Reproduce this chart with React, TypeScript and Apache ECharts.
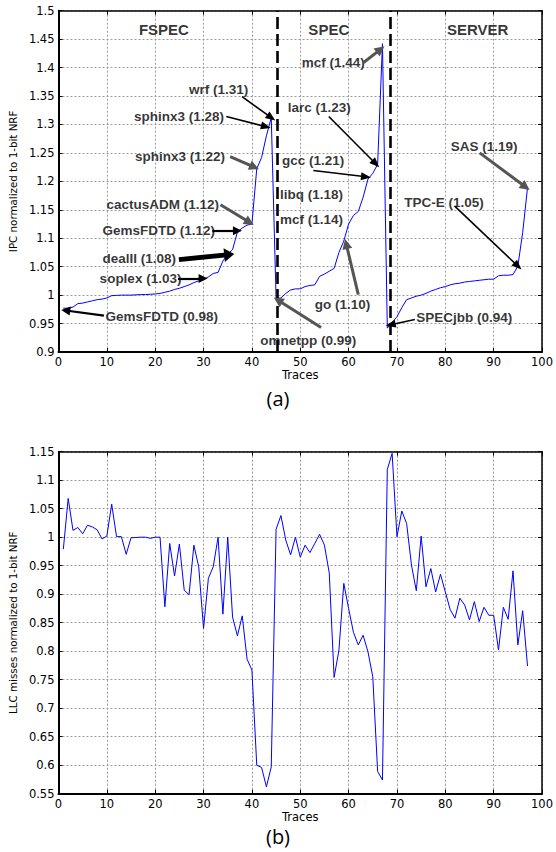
import React, { useEffect, useRef } from "react";
import * as echarts from "echarts";

// IPC normalized to 1-bit NRF, traces 1..97
const ipcValues = [
  0.977, 0.977, 0.979, 0.985, 0.986, 0.988, 0.99, 0.992, 0.993, 0.995,
  0.999, 0.9995, 1.0, 1.0, 1.0, 1.0005, 1.001, 1.001, 1.0015, 1.002,
  1.003, 1.005, 1.007, 1.01, 1.012, 1.015, 1.018, 1.022, 1.025, 1.028,
  1.032, 1.038, 1.04, 1.06, 1.072, 1.08, 1.111, 1.118, 1.123, 1.125,
  1.222, 1.242, 1.28, 1.312,
  0.994, 0.995, 1.003, 1.009, 1.011, 1.011, 1.015, 1.017, 1.018, 1.033,
  1.037, 1.042, 1.047, 1.075, 1.095, 1.125, 1.14, 1.147, 1.172, 1.204,
  1.214, 1.23, 1.442,
  0.942, 0.952, 0.962, 0.978, 0.992, 0.995, 0.998, 1.0, 1.003, 1.007,
  1.01, 1.013, 1.015, 1.018, 1.02, 1.021, 1.023, 1.024, 1.025, 1.026,
  1.027, 1.028, 1.028, 1.034, 1.035, 1.035, 1.036, 1.051, 1.11, 1.189,
];

// LLC misses normalized to 1-bit NRF, traces 1..97
const llcValues = [
  0.979, 1.068, 1.012, 1.017, 1.006, 1.021, 1.018, 1.013, 0.997, 1.002,
  1.058, 1.001, 1.001, 0.97, 0.999, 0.9995, 1.0, 1.0, 0.998, 1.0,
  1.0, 0.878, 0.989, 0.932, 0.988, 0.907, 0.899, 0.986, 0.948, 0.84,
  0.928, 0.948, 1.0, 0.865, 1.0, 0.86, 0.827, 0.862, 0.786, 0.767,
  0.6, 0.596, 0.562, 0.597, 1.014, 1.038, 0.995, 0.969, 1.0, 0.965,
  0.986, 0.973, 0.989, 1.005, 0.986, 0.937, 0.754, 0.802, 0.919, 0.875,
  0.833, 0.811, 0.828, 0.799, 0.755, 0.589, 0.574, 1.119, 1.147, 1.001,
  1.046, 1.024, 0.951, 0.906, 1.002, 0.913, 0.945, 0.904, 0.935, 0.904,
  0.873, 0.858, 0.893, 0.881, 0.855, 0.887, 0.852, 0.877, 0.863, 0.863,
  0.802, 0.877, 0.856, 0.941, 0.811, 0.871, 0.774,
];

const sectionLabels = [
  { text: "FSPEC", x: 21.8, y: 1.467 },
  { text: "SPEC", x: 55.9, y: 1.467 },
  { text: "SERVER", x: 86.7, y: 1.467 },
];

const separators = [45.2, 68.7];

type Ann = { text: string; tx: number; ty: number; from?: number[]; to?: number[]; kind?: string };
const annotations: Ann[] = [
  { text: "wrf (1.31)", tx: 26.9, ty: 1.361, from: [37.96, 1.349], to: [44.0, 1.312], kind: "black" },
  { text: "sphinx3 (1.28)", tx: 15.5, ty: 1.314, from: [34.7, 1.314], to: [42.9, 1.296], kind: "black" },
  { text: "sphinx3 (1.22)", tx: 15.7, ty: 1.2436, from: [35.5, 1.2436], to: [40.5, 1.225], kind: "gray" },
  { text: "cactusADM (1.12)", tx: 9.8, ty: 1.159, from: [33.5, 1.159], to: [39.5, 1.128], kind: "gray" },
  { text: "GemsFDTD (1.12)", tx: 9.0, ty: 1.113, from: [31.8, 1.113], to: [37.0, 1.113], kind: "mid" },
  { text: "dealII (1.08)", tx: 9.0, ty: 1.064, from: [24.9, 1.0624], to: [35.3, 1.0712], kind: "thick" },
  { text: "soplex (1.03)", tx: 8.4, ty: 1.029, from: [24.7, 1.029], to: [29.9, 1.029], kind: "mid" },
  { text: "GemsFDTD (0.98)", tx: 9.6, ty: 0.962, from: [9.4, 0.964], to: [1.5, 0.973], kind: "mid" },
  { text: "omnetpp (0.99)", tx: 41.6, ty: 0.92, from: [54.3, 0.943], to: [45.4, 0.991], kind: "gray" },
  { text: "go (1.10)", tx: 52.9, ty: 0.983, from: [62.0, 1.001], to: [59.5, 1.09], kind: "gray" },
  { text: "mcf (1.14)", tx: 45.7, ty: 1.133 },
  { text: "libq (1.18)", tx: 45.7, ty: 1.177 },
  { text: "gcc (1.21)", tx: 46.1, ty: 1.2366, from: [52.7, 1.219], to: [63.6, 1.208], kind: "black" },
  { text: "larc (1.23)", tx: 47.3, ty: 1.33, from: [55.9, 1.314], to: [65.6, 1.231], kind: "black" },
  { text: "mcf (1.44)", tx: 50.2, ty: 1.409, from: [63.1, 1.409], to: [66.6, 1.432], kind: "gray" },
  { text: "SAS (1.19)", tx: 81.0, ty: 1.261, from: [87.1, 1.25], to: [96.6, 1.19], kind: "gray" },
  { text: "TPC-E (1.05)", tx: 71.4, ty: 1.163, from: [82.0, 1.156], to: [95.0, 1.051], kind: "black" },
  { text: "SPECjbb (0.94)", tx: 73.9, ty: 0.96, from: [73.7, 0.957], to: [68.7, 0.948], kind: "black" },
];

const tickFont = "DejaVu Sans";
const annFont = "Liberation Sans";

const fmt = (v: number) => String(parseFloat(v.toFixed(2)));

function arrowStyle(kind?: string) {
  switch (kind) {
    case "thick":
      return { line: { color: "#000", width: 5, type: "solid" }, size: [14, 10] };
    case "mid":
      return { line: { color: "#000", width: 2.2, type: "solid" }, size: [9, 9] };
    case "gray":
      return { line: { color: "#555", width: 3, type: "solid" }, size: [10, 10] };
    default:
      return { line: { color: "#000", width: 1.6, type: "solid" }, size: [8, 10] };
  }
}

function makeAxes(gridIndex: number, yMin: number, yMax: number, yName: string) {
  const xMain = {
    type: "value",
    gridIndex,
    min: 0,
    max: 100,
    interval: 10,
    position: "bottom",
    name: "Traces",
    nameLocation: "middle",
    nameGap: 17,
    nameTextStyle: { fontFamily: tickFont, fontSize: 11.5, color: "#000" },
    axisLine: { show: true, onZero: false, lineStyle: { color: "#000", width: 2 } },
    axisTick: { show: true, inside: true, length: 4, lineStyle: { color: "#000" } },
    axisLabel: { show: true, margin: 4, fontFamily: tickFont, fontSize: 11.5, color: "#000" },
    splitLine: { show: true, lineStyle: { color: "#9a9a9a", type: [2, 2], width: 1 } },
  };
  const xTop = {
    type: "value",
    gridIndex,
    min: 0,
    max: 100,
    interval: 10,
    position: "top",
    axisLine: { show: true, onZero: false, lineStyle: { color: "#000", width: 1.5 } },
    axisTick: { show: true, inside: true, length: 4, lineStyle: { color: "#000" } },
    axisLabel: { show: false },
    splitLine: { show: false },
  };
  const yMain = {
    type: "value",
    gridIndex,
    min: yMin,
    max: yMax,
    interval: 0.05,
    position: "left",
    name: yName,
    nameLocation: "middle",
    nameGap: 36,
    nameTextStyle: { fontFamily: tickFont, fontSize: 10.3, color: "#000" },
    axisLine: { show: true, onZero: false, lineStyle: { color: "#000", width: 2 } },
    axisTick: { show: true, inside: true, length: 4, lineStyle: { color: "#000" } },
    axisLabel: { show: true, margin: 4, fontFamily: tickFont, fontSize: 11.5, color: "#000", formatter: fmt },
    splitLine: { show: true, lineStyle: { color: "#9a9a9a", type: [2, 2], width: 1 } },
  };
  const yRight = {
    type: "value",
    gridIndex,
    min: yMin,
    max: yMax,
    interval: 0.05,
    position: "right",
    axisLine: { show: true, onZero: false, lineStyle: { color: "#000", width: 1.5 } },
    axisTick: { show: true, inside: true, length: 4, lineStyle: { color: "#000" } },
    axisLabel: { show: false },
    splitLine: { show: false },
  };
  return { x: [xMain, xTop], y: [yMain, yRight] };
}

export default function App() {
  const ref = useRef<HTMLDivElement>(null);
  useEffect(() => {
    if (!ref.current) return;
    const chart = echarts.init(ref.current, null, { renderer: "svg" });
    const a0 = makeAxes(0, 0.9, 1.5, "IPC normalized to 1-bit NRF");
    const a1 = makeAxes(1, 0.55, 1.15, "LLC misses normalized to 1-bit NRF");

    const markData: any[] = [];
    separators.forEach((sx) => {
      markData.push([
        { coord: [sx, 0.9], symbol: "none", lineStyle: { color: "#000", width: 2.6, type: [12, 5] } },
        { coord: [sx, 1.5], symbol: "none" },
      ]);
    });
    annotations.forEach((a) => {
      if (!a.from || !a.to) return;
      const st = arrowStyle(a.kind);
      markData.push([
        { coord: a.from, symbol: "none", lineStyle: st.line },
        { coord: a.to, symbol: "triangle", symbolSize: st.size, lineStyle: st.line, itemStyle: { color: st.line.color } },
      ]);
    });

    chart.setOption({
      animation: false,
      backgroundColor: "#fff",
      grid: [
        { left: 56, width: 490.5, top: 10.7, height: 341.3, containLabel: false },
        { left: 56, width: 490.5, top: 451.7, height: 342, containLabel: false },
      ],
      xAxis: [...a0.x, ...a1.x],
      yAxis: [...a0.y, ...a1.y],
      series: [
        {
          type: "line",
          xAxisIndex: 0,
          yAxisIndex: 0,
          data: ipcValues.map((v, i) => [i + 1, v]),
          symbol: "none",
          lineStyle: { color: "#0000ff", width: 1 },
          silent: true,
          markLine: {
            silent: true,
            animation: false,
            symbol: ["none", "triangle"],
            label: { show: false },
            emphasis: { disabled: true },
            data: markData,
          },
        },
        {
          type: "scatter",
          xAxisIndex: 0,
          yAxisIndex: 0,
          symbolSize: 1,
          itemStyle: { color: "rgba(0,0,0,0)" },
          silent: true,
          data: annotations.map((a) => ({ value: [a.tx, a.ty], name: a.text })),
          label: {
            show: true,
            position: "right",
            distance: 0,
            formatter: "{b}",
            fontFamily: annFont,
            fontWeight: "bold",
            fontSize: 13.5,
            color: "#000",
          },
        },
        {
          type: "scatter",
          xAxisIndex: 0,
          yAxisIndex: 0,
          symbolSize: 1,
          itemStyle: { color: "rgba(0,0,0,0)" },
          silent: true,
          data: sectionLabels.map((s) => ({ value: [s.x, s.y], name: s.text })),
          label: {
            show: true,
            position: "inside",
            formatter: "{b}",
            fontFamily: annFont,
            fontWeight: "bold",
            fontSize: 15,
            color: "#000",
          },
        },
        {
          type: "line",
          xAxisIndex: 2,
          yAxisIndex: 2,
          data: llcValues.map((v, i) => [i + 1, v]),
          symbol: "none",
          lineStyle: { color: "#0000ff", width: 1 },
          silent: true,
        },
      ],
      graphic: [
        {
          type: "text",
          x: 278,
          y: 398,
          style: { text: "(a)", fontSize: 20, fontFamily: "Open Sans", fill: "#000", align: "center", verticalAlign: "middle" },
        },
        {
          type: "text",
          x: 278,
          y: 836,
          style: { text: "(b)", fontSize: 20, fontFamily: "Open Sans", fill: "#000", align: "center", verticalAlign: "middle" },
        },
      ],
    });
    return () => chart.dispose();
  }, []);
  return (
    <div
      ref={ref}
      style={{ position: "fixed", left: 0, top: 0, width: 556, height: 852, background: "#fff" }}
    />
  );
}
